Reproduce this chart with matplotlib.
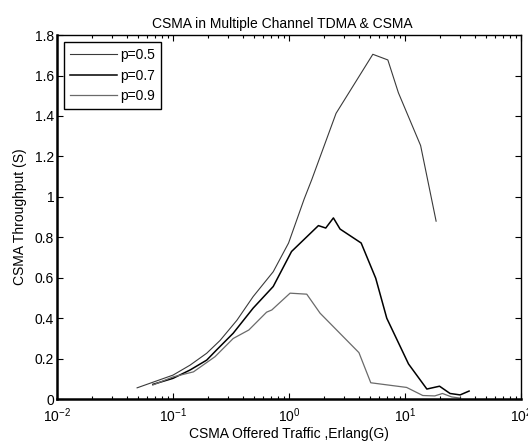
import numpy as np
import matplotlib.pyplot as plt
from matplotlib.ticker import LogLocator, NullFormatter

plt.rcParams['font.family'] = ['Liberation Sans', 'DejaVu Sans']
plt.rcParams['font.size'] = 10
plt.rcParams['mathtext.fontset'] = 'custom'
plt.rcParams['mathtext.rm'] = 'Liberation Sans'

# values
g_05 = [0.049, 0.1, 0.14, 0.195, 0.254, 0.355, 0.49, 0.73, 0.99, 1.35, 1.57,
        2.54, 5.27, 7.1, 8.75, 13.6, 18.5]
s_05 = [0.056, 0.119, 0.168, 0.227, 0.29, 0.39, 0.507, 0.63, 0.772, 0.99, 1.086,
        1.413, 1.705, 1.677, 1.515, 1.254, 0.88]

g_07 = [0.067, 0.1, 0.14, 0.195, 0.237, 0.33, 0.49, 0.73, 1.05, 1.79, 2.07,
        2.41, 2.75, 4.18, 5.58, 6.95, 10.7, 15.4, 19.8, 24.4, 29.8, 35.6]
s_07 = [0.073, 0.103, 0.144, 0.193, 0.243, 0.326, 0.45, 0.557, 0.73, 0.858, 0.846,
        0.896, 0.841, 0.772, 0.598, 0.40, 0.174, 0.05, 0.064, 0.028, 0.021, 0.04]

g_09 = [0.067, 0.1, 0.15, 0.23, 0.33, 0.45, 0.64, 0.71, 1.02, 1.42, 1.85,
        4.0, 5.06, 10.3, 14.2, 18.0, 21.0, 25.2, 30.0]
s_09 = [0.07, 0.11, 0.135, 0.21, 0.30, 0.342, 0.43, 0.441, 0.524, 0.519, 0.425,
        0.23, 0.081, 0.058, 0.018, 0.016, 0.028, 0.011, 0.005]

fig = plt.figure(figsize=(5.28, 4.44), dpi=100)
ax = fig.add_axes([0.108, 0.101, 0.879, 0.820])

ax.semilogx(g_05, s_05, color='#3a3a3a', lw=0.8, label='p=0.5')
ax.semilogx(g_07, s_07, color='#000000', lw=1.1, label='p=0.7')
ax.semilogx(g_09, s_09, color='#6a6a6a', lw=0.9, label='p=0.9')

ax.set_xlim(1e-2, 1e2)
ax.set_ylim(0, 1.8)
ax.set_yticks(np.arange(0, 1.81, 0.2))
ax.set_yticklabels(['0', '0.2', '0.4', '0.6', '0.8', '1', '1.2', '1.4', '1.6', '1.8'])
ax.xaxis.set_major_locator(LogLocator(base=10, numticks=10))
ax.xaxis.set_minor_locator(LogLocator(base=10, subs=np.arange(2, 10), numticks=10))
ax.xaxis.set_minor_formatter(NullFormatter())

ax.tick_params(which='both', direction='in', top=True, right=True, width=0.8)
ax.tick_params(which='major', length=4)
ax.tick_params(which='minor', length=2.5)
ax.tick_params(axis='x', pad=5)
ax.tick_params(axis='y', pad=2)
for side in ['left', 'bottom']:
    ax.spines[side].set_linewidth(1.8)
for side in ['top', 'right']:
    ax.spines[side].set_linewidth(1.0)

ax.set_title('CSMA in Multiple Channel TDMA & CSMA', fontsize=10, pad=5, x=0.485)
ax.set_xlabel('CSMA Offered Traffic ,Erlang(G)', labelpad=2)
ax.set_ylabel('CSMA Throughput (S)', labelpad=6)

leg = ax.legend(loc='upper left', handlelength=3.4, handletextpad=0.2,
                fancybox=False, framealpha=1, edgecolor='black',
                borderpad=0.45, labelspacing=0.45, borderaxespad=0.5)
leg.get_frame().set_linewidth(1.0)

fig.savefig('out.png', dpi=100)
